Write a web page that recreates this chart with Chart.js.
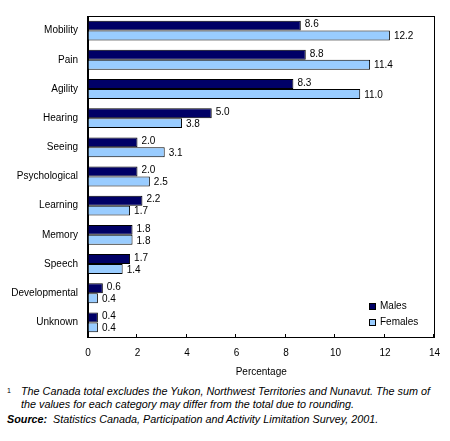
<!DOCTYPE html>
<html>
<head>
<meta charset="utf-8">
<script src="https://cdn.jsdelivr.net/npm/chart.js@4/dist/chart.umd.min.js"></script>
<style>
  html, body { margin: 0; padding: 0; background: #fff; }
  #wrap { position: relative; width: 450px; height: 441px; font-family: "Liberation Sans", Arial, sans-serif; }
  #box { position: absolute; left: 0; top: 0; width: 450px; height: 378px; }
  .note { position: absolute; font-size: 10.8px; font-style: italic; color: #000; white-space: nowrap; line-height: 12px; }
</style>
</head>
<body>
<div id="wrap">
  <div id="box"><canvas id="c"></canvas></div>
  <div class="note" style="left:7px; top:385px; font-style:normal;"><span style="font-size:7px; vertical-align:3px;">1</span></div>
  <div class="note" style="left:21px; top:385px;">The Canada total excludes the Yukon, Northwest Territories and Nunavut. The sum of</div>
  <div class="note" style="left:21px; top:398px;">the values for each category may differ from the total due to rounding.</div>
  <div class="note" style="left:7px; top:413px; font-weight:bold;">Source:</div>
  <div class="note" style="left:53px; top:413px;">Statistics Canada, Participation and Activity Limitation Survey, 2001.</div>
</div>
<script>
const categories = ["Mobility", "Pain", "Agility", "Hearing", "Seeing", "Psychological", "Learning", "Memory", "Speech", "Developmental", "Unknown"];
const males = [8.6, 8.8, 8.3, 5.0, 2.0, 2.0, 2.2, 1.8, 1.7, 0.6, 0.4];
const females = [12.2, 11.4, 11.0, 3.8, 3.1, 2.5, 1.7, 1.8, 1.4, 0.4, 0.4];
const xTicks = [0, 2, 4, 6, 8, 10, 12, 14];

const FONT = "'Liberation Sans', Arial, sans-serif";

const extras = {
  id: 'extras',
  afterDatasetsDraw(chart) {
    const ctx = chart.ctx;
    const a = chart.chartArea;
    ctx.save();
    // plot frame
    ctx.strokeStyle = '#000';
    ctx.lineWidth = 1;
    ctx.strokeRect(Math.round(a.left) - 0.5, Math.round(a.top) + 0.5, Math.round(a.right - a.left) + 1, Math.round(a.bottom - a.top));
    // inward ticks
    const xs = chart.scales.x;
    xTicks.forEach(v => {
      const px = Math.round(xs.getPixelForValue(v)) - 0.5;
      ctx.beginPath();
      ctx.moveTo(px, a.bottom);
      ctx.lineTo(px, a.bottom - 3);
      ctx.stroke();
    });
    // value labels
    ctx.fillStyle = '#000';
    ctx.font = '10px ' + FONT;
    ctx.textAlign = 'left';
    ctx.textBaseline = 'middle';
    chart.data.datasets.forEach((ds, di) => {
      const meta = chart.getDatasetMeta(di);
      meta.data.forEach((bar, i) => {
        ctx.fillText(ds.data[i].toFixed(1), bar.x + 4, bar.y + (di === 0 ? -1 : 1));
      });
    });
    // legend inside plot
    chart.data.datasets.forEach((ds, di) => {
      const lx = Math.round(a.right) - 65;
      const ly = Math.round(a.bottom) - 34 + di * 16;
      ctx.fillStyle = ds.backgroundColor;
      ctx.fillRect(lx, ly, 6, 6);
      ctx.strokeStyle = '#000';
      ctx.strokeRect(lx + 0.5, ly + 0.5, 6, 6);
      ctx.fillStyle = '#000';
      ctx.fillText(ds.label, lx + 11, ly + 3.5);
    });
    ctx.restore();
  }
};

new Chart(document.getElementById('c'), {
  type: 'bar',
  data: {
    labels: categories,
    datasets: [
      { label: 'Males', data: males, backgroundColor: '#000066', borderColor: '#000', borderWidth: 1 },
      { label: 'Females', data: females, backgroundColor: '#99ccff', borderColor: '#000', borderWidth: 1 }
    ]
  },
  options: {
    indexAxis: 'y',
    responsive: true,
    maintainAspectRatio: false,
    animation: false,
    layout: { padding: { left: 0, right: 13, top: 5, bottom: 0 } },
    datasets: { bar: { categoryPercentage: 0.68, barPercentage: 1.0 } },
    plugins: { legend: { display: false }, tooltip: { enabled: false } },
    scales: {
      x: {
        min: 0, max: 14,
        afterBuildTicks: s => { s.ticks = xTicks.map(v => ({ value: v })); },
        afterFit: s => { s.height = 41; },
        grid: { display: true, drawOnChartArea: false, drawTicks: false },
        border: { display: true, color: '#000', width: 1 },
        ticks: { padding: 10, color: '#000', font: { size: 10, family: FONT }, maxRotation: 0 },
        title: { display: true, text: 'Percentage', color: '#000', font: { size: 10, family: FONT }, padding: { top: 4, bottom: 0 } }
      },
      y: {
        afterFit: s => { s.width = 88; },
        grid: { display: false, drawTicks: false },
        border: { display: true, color: '#000', width: 1 },
        ticks: { padding: 10, color: '#000', font: { size: 10, family: FONT }, autoSkip: false }
      }
    }
  },
  plugins: [extras]
});
</script>
</body>
</html>
